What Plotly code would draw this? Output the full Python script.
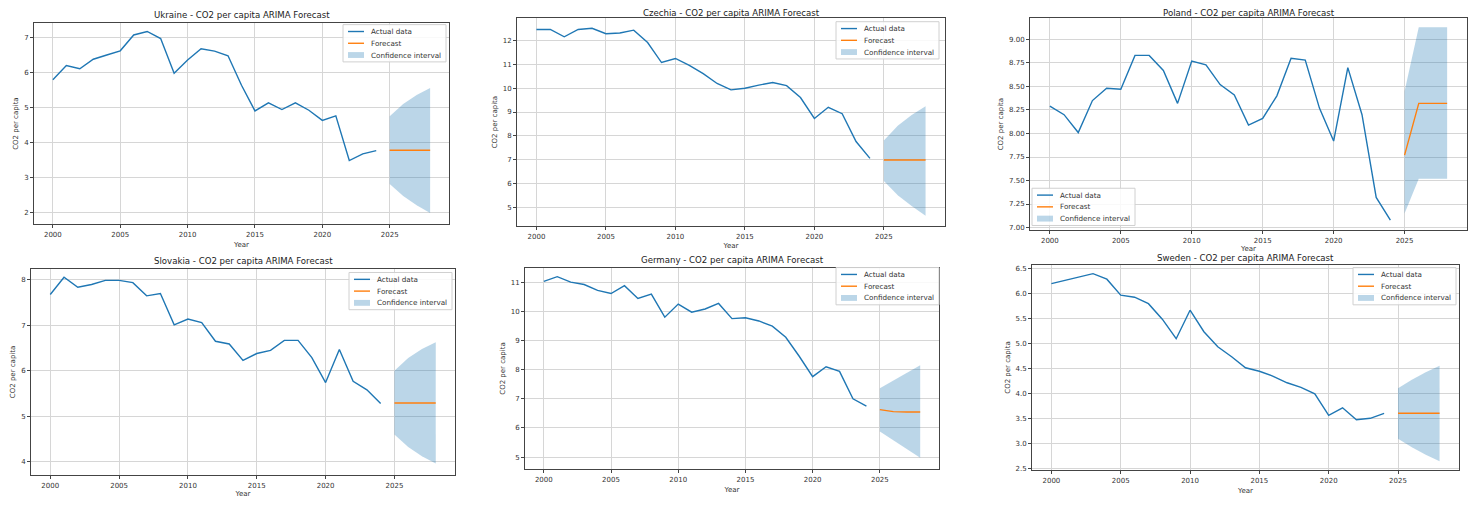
import plotly.graph_objects as go

# page is 1479x506; the html body adds an 8px margin around the plot div
OFF = 8
FW, FH = 1479 - 2 * OFF, 506 - 2 * OFF

years = list(range(2000, 2025))
fc_years = [2025, 2026, 2027, 2028]

ukraine_actual = [5.79, 6.19, 6.10, 6.37, 6.49, 6.61, 7.06, 7.16, 6.96, 5.97, 6.35, 6.67, 6.60, 6.47,
                  5.63, 4.90, 5.13, 4.94, 5.13, 4.92, 4.63, 4.76, 3.49, 3.68, 3.77]
ukraine_fc = [3.78, 3.78, 3.78, 3.78]
ukraine_lo = [2.82, 2.48, 2.22, 2.00]
ukraine_hi = [4.75, 5.10, 5.35, 5.55]

czechia_actual = [12.47, 12.47, 12.16, 12.47, 12.52, 12.29, 12.32, 12.44, 11.92, 11.08, 11.25, 10.96,
                  10.61, 10.20, 9.93, 10.00, 10.13, 10.24, 10.11, 9.61, 8.73, 9.20, 8.93, 7.76, 7.05]
czechia_fc = [6.98, 6.98, 6.98, 6.98]
czechia_lo = [6.10, 5.50, 5.05, 4.64]
czechia_hi = [7.80, 8.42, 8.87, 9.24]

poland_actual = [8.29, 8.20, 8.01, 8.35, 8.48, 8.47, 8.83, 8.83, 8.67, 8.32, 8.77, 8.73, 8.52, 8.41,
                 8.09, 8.16, 8.40, 8.80, 8.78, 8.27, 7.92, 8.70, 8.20, 7.32, 7.08]
poland_fc = [7.77, 8.32, 8.32, 8.32]
poland_lo = [7.15, 7.52, 7.52, 7.52]
poland_hi = [8.45, 9.13, 9.13, 9.13]

slovakia_actual = [7.68, 8.06, 7.84, 7.90, 7.99, 7.99, 7.94, 7.65, 7.70, 7.01, 7.14, 7.06, 6.65, 6.59,
                   6.23, 6.38, 6.45, 6.67, 6.67, 6.29, 5.74, 6.47, 5.77, 5.58, 5.28]
slovakia_fc = [5.29, 5.29, 5.29, 5.29]
slovakia_lo = [4.60, 4.32, 4.12, 3.96]
slovakia_hi = [6.00, 6.28, 6.48, 6.63]

germany_actual = [11.03, 11.19, 11.00, 10.92, 10.72, 10.61, 10.88, 10.44, 10.59, 9.80, 10.25, 9.97,
                  10.08, 10.27, 9.75, 9.78, 9.67, 9.49, 9.11, 8.46, 7.76, 8.10, 7.94, 7.00, 6.75]
germany_fc = [6.63, 6.56, 6.55, 6.55]
germany_lo = [5.88, 5.58, 5.28, 4.98]
germany_hi = [7.36, 7.62, 7.88, 8.15]

sweden_actual = [6.20, 6.27, 6.33, 6.40, 6.29, 5.97, 5.93, 5.80, 5.49, 5.10, 5.67, 5.24, 4.94, 4.74,
                 4.52, 4.45, 4.35, 4.22, 4.13, 4.00, 3.57, 3.72, 3.48, 3.51, 3.61]
sweden_fc = [3.61, 3.61, 3.61, 3.61]
sweden_lo = [3.10, 2.93, 2.78, 2.65]
sweden_hi = [4.11, 4.28, 4.43, 4.56]

countries = ["Ukraine", "Czechia", "Poland", "Slovakia", "Germany", "Sweden"]
actuals = [ukraine_actual, czechia_actual, poland_actual, slovakia_actual, germany_actual, sweden_actual]
forecasts = [ukraine_fc, czechia_fc, poland_fc, slovakia_fc, germany_fc, sweden_fc]
lows = [ukraine_lo, czechia_lo, poland_lo, slovakia_lo, germany_lo, sweden_lo]
highs = [ukraine_hi, czechia_hi, poland_hi, slovakia_hi, germany_hi, sweden_hi]
legend_labels = ["Actual data", "Forecast", "Confidence interval"]

# page-pixel boxes (left, top, right, bottom) of each plot area
boxes = [
    (34, 23, 449, 229),
    (517, 18, 945, 231),
    (1030, 18, 1467, 235),
    (31, 274, 455, 485),
    (525, 273, 939, 479),
    (1032, 270, 1459, 480),
]
title_y = [15, 13, 13, 266, 265, 263]
year_standoff = [4, 3, 1, 4, 4, 4]
yranges = [(1.67, 7.41), (4.19, 12.96), (6.97, 9.23), (3.70, 8.25), (4.58, 11.50), (2.47, 6.58)]
ydticks = [1, 1, 0.25, 1, 1, 0.5]
yformats = ["d", "d", ".2f", "d", "d", ".1f"]
# legend box: (left, top) in page pixels
legend_boxes = [(343, 25), (836, 22), (1032, 192), (349, 278), (836, 273), (1353, 273)]
LEG_W, LEG_H = 103, 38

BLUE = "#1f77b4"
ORANGE = "#ff7f0e"
FILL = "rgba(31,119,180,0.3)"
FONT = "DejaVu Sans"
TXT = "#333333"


def px(x):
    return (x - OFF) / FW


def py(y):
    return 1 - (y - OFF) / FH


fig = go.Figure()
layout = dict(
    width=FW, height=FH, margin=dict(l=0, r=0, t=0, b=0),
    paper_bgcolor="white", plot_bgcolor="white",
    font=dict(family=FONT, size=7, color=TXT),
    showlegend=False, annotations=[], shapes=[],
)

for i, name in enumerate(countries):
    n = i + 1
    xa = "x" if n == 1 else f"x{n}"
    ya = "y" if n == 1 else f"y{n}"
    l, t, r, b = boxes[i]
    xd = [px(l), px(r)]
    yd = [py(b), py(t)]

    fig.add_trace(go.Scatter(x=fc_years + fc_years[::-1], y=highs[i] + lows[i][::-1],
                             mode="lines", fill="toself", fillcolor=FILL, name=legend_labels[2],
                             line=dict(width=0, color=FILL), xaxis=xa, yaxis=ya))
    fig.add_trace(go.Scatter(x=years, y=actuals[i], mode="lines", name=legend_labels[0],
                             line=dict(color=BLUE, width=1.4), xaxis=xa, yaxis=ya))
    fig.add_trace(go.Scatter(x=fc_years, y=forecasts[i], mode="lines", name=legend_labels[1],
                             line=dict(color=ORANGE, width=1.4), xaxis=xa, yaxis=ya))

    axcommon = dict(showline=True, mirror=True, linecolor="#444444", linewidth=0.8,
                    showgrid=True, gridcolor="#d6d6d6", gridwidth=0.8, zeroline=False,
                    ticks="outside", ticklen=3, tickcolor="#444444",
                    tickfont=dict(size=7, color=TXT))
    layout["xaxis" if n == 1 else f"xaxis{n}"] = dict(
        axcommon, domain=xd, range=[1998.6, 2029.4], tick0=2000, dtick=5,
        anchor=ya, title=dict(text="Year", font=dict(size=7, color=TXT), standoff=year_standoff[i]))
    layout["yaxis" if n == 1 else f"yaxis{n}"] = dict(
        axcommon, domain=yd, range=list(yranges[i]), dtick=ydticks[i], tickformat=yformats[i],
        anchor=xa, title=dict(text="CO2 per capita", font=dict(size=7, color=TXT), standoff=4))

    layout["annotations"].append(dict(
        text=f"{name} - CO2 per capita ARIMA Forecast", xref="paper", yref="paper",
        x=(xd[0] + xd[1]) / 2, y=py(title_y[i]), xanchor="center", yanchor="middle",
        showarrow=False, font=dict(size=8.6, color="#222222", family=FONT)))

    # legend (matplotlib style box)
    lx, ly = legend_boxes[i]
    layout["shapes"].append(dict(type="rect", xref="paper", yref="paper",
                                 x0=px(lx), x1=px(lx + LEG_W), y0=py(ly + LEG_H), y1=py(ly),
                                 fillcolor="rgba(255,255,255,0.85)",
                                 line=dict(color="#d0d0d0", width=1)))
    for k, lab in enumerate(legend_labels):
        cy = ly + 7 + k * 12
        if k < 2:
            layout["shapes"].append(dict(type="line", xref="paper", yref="paper",
                                         x0=px(lx + 5), x1=px(lx + 21), y0=py(cy), y1=py(cy),
                                         line=dict(color=BLUE if k == 0 else ORANGE, width=1.4)))
        else:
            layout["shapes"].append(dict(type="rect", xref="paper", yref="paper",
                                         x0=px(lx + 5), x1=px(lx + 21), y0=py(cy + 3), y1=py(cy - 3),
                                         fillcolor=FILL, line=dict(width=0)))
        layout["annotations"].append(dict(
            text=lab, xref="paper", yref="paper", x=px(lx + 26), y=py(cy),
            xanchor="left", yanchor="middle", showarrow=False,
            font=dict(size=7.2, color=TXT, family=FONT)))

fig.update_layout(**layout)
fig.write_html("out.html")
